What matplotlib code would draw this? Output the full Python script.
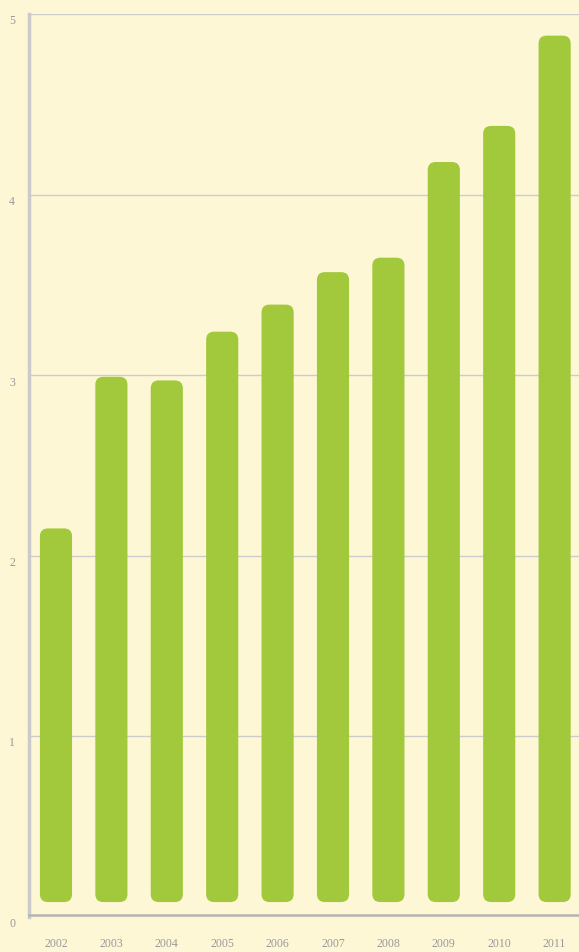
import matplotlib
matplotlib.use("Agg")
import matplotlib.pyplot as plt
from matplotlib.patches import FancyBboxPatch
import matplotlib.transforms as mtransforms

# values
years = ['2002', '2003', '2004', '2005', '2006', '2007', '2008', '2009', '2010', '2011']
values = [2.15, 2.99, 2.97, 3.24, 3.39, 3.57, 3.65, 4.18, 4.38, 4.88]
yticks = [0, 1, 2, 3, 4, 5]

bg = '#fdf7d6'
green = '#a2c83c'

fig = plt.figure(figsize=(5.79, 9.52), dpi=100, facecolor=bg)
W, H = 579, 952
ax = fig.add_axes([29 / W, (H - 916.5) / H, 550 / W, (916.5 - 14) / H])
ax.set_facecolor(bg)

xpos = list(range(len(years)))
bars = ax.bar(xpos, [v - 0.08 for v in values], bottom=0.08, width=0.58, color=green)

ax.set_xlim(-0.487, 9.44)
ax.set_ylim(0, 5)

# swap plain bars for rounded ones
xu = (9.44 + 0.487) / 550
yu = 5 / 902.5
for b in bars:
    x, y = b.get_x(), b.get_y()
    w, h = b.get_width(), b.get_height()
    b.remove()
    p = FancyBboxPatch((x, y), w, h,
                       boxstyle='round,pad=0,rounding_size=%f' % (8 * xu),
                       mutation_aspect=yu / xu,
                       fc=green, ec='none', zorder=3)
    ax.add_patch(p)

for s in ['top', 'right']:
    ax.spines[s].set_visible(False)
ax.spines['left'].set_color('#cacaca')
ax.spines['left'].set_linewidth(2.5)
ax.spines['bottom'].set_color('#b4b4b4')
ax.spines['bottom'].set_linewidth(1.8)
ax.spines['bottom'].set_position(('data', 0.01))

ax.set_yticks(yticks)
ax.yaxis.grid(True, color='#cccccc', linewidth=1)
ax.set_axisbelow(True)
ax.tick_params(length=0)
ax.set_xticks(xpos)
ax.set_xticklabels(years, family='Liberation Serif', fontsize=8.5, color='#999999')
ax.set_yticklabels([str(t) for t in yticks], family='Liberation Serif', fontsize=8.5, color='#999999')
ax.tick_params(axis='x', pad=17)
ax.tick_params(axis='y', pad=10)
off = mtransforms.ScaledTranslation(0, -6 / 100, fig.dpi_scale_trans)
for lab in ax.get_yticklabels():
    lab.set_transform(lab.get_transform() + off)

fig.savefig('out.png', dpi=100, facecolor=bg)
